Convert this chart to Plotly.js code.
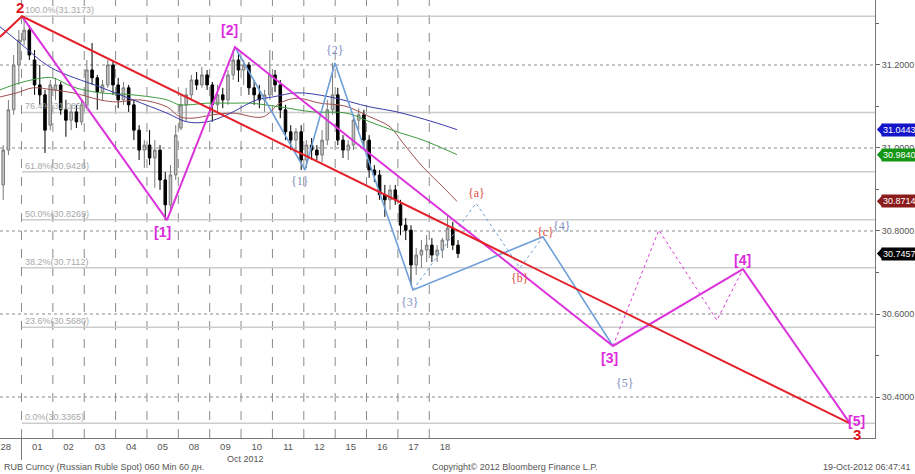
<!DOCTYPE html>
<html><head><meta charset="utf-8">
<script src="https://cdn.plot.ly/plotly-3.0.1.min.js"></script>
<style>html,body{margin:0;padding:0;background:#fff}</style>
</head><body><div id="chart" style="width:915px;height:474px"></div>
<script>
// ---- axis / categories ----
const dayLabels = ['28','01','02','03','04','05','08','09','10','11','12','15','16','17','18'];
const barsPerDay = 6;
const firstBarSlot = 2; // first visible bar slot within day "28"

// ---- hourly candles (RUB spot) ----
const openV = [
 30.911,30.995,31.092,31.200,
 31.260,31.284,31.212,31.152,31.128,31.055,
 31.140,31.152,31.092,31.067,31.087,31.063,
 31.104,31.188,31.169,31.135,31.152,31.200,
 31.152,31.116,31.145,31.104,31.043,30.995,
 31.007,30.976,30.995,30.923,30.863,30.935,
 31.048,31.104,31.128,31.164,31.152,31.176,
 31.152,31.104,31.128,31.116,31.176,31.212,
 31.188,31.200,31.145,31.128,31.116,31.128,
 31.176,31.152,31.092,31.039,31.019,31.039,
 30.971,31.007,30.995,30.983,31.019,31.092,
 31.128,31.019,30.995,31.007,31.067,31.080,
 31.019,30.947,30.935,30.887,30.875,30.899,
 30.863,30.814,30.802,30.718,30.742,30.754,
 30.766,30.742,30.754,30.778,30.807,30.766
];
const highV = [
 31.007,31.116,31.224,31.284,
 31.317,31.296,31.236,31.200,31.140,31.164,
 31.169,31.159,31.116,31.104,31.104,31.116,
 31.212,31.253,31.176,31.164,31.212,31.207,
 31.169,31.159,31.152,31.116,31.055,31.019,
 31.043,31.019,31.007,30.942,30.959,31.055,
 31.128,31.145,31.176,31.183,31.195,31.188,
 31.159,31.152,31.145,31.188,31.236,31.231,
 31.212,31.207,31.164,31.152,31.140,31.236,
 31.188,31.164,31.104,31.055,31.048,31.055,
 31.019,31.024,31.007,31.043,31.116,31.205,
 31.145,31.031,31.019,31.080,31.096,31.092,
 31.031,30.959,30.947,30.911,30.911,30.911,
 30.875,30.831,30.814,30.759,30.778,30.790,
 30.783,30.766,30.783,30.839,30.822,30.778
];
const lowV = [
 30.875,30.983,31.080,31.152,
 31.248,31.212,31.128,31.104,30.988,31.043,
 31.116,31.080,31.027,31.043,31.048,31.055,
 31.096,31.152,31.092,31.116,31.145,31.128,
 31.096,31.104,31.087,31.019,30.971,30.952,
 30.959,30.904,30.899,30.826,30.851,30.923,
 31.043,31.063,31.116,31.140,31.145,31.140,
 31.063,31.087,31.096,31.104,31.164,31.159,
 31.152,31.128,31.104,31.096,31.087,31.116,
 31.135,31.072,31.019,30.995,30.990,30.947,
 30.952,30.971,30.971,30.966,31.007,31.080,
 31.007,30.976,30.971,30.995,31.043,30.995,
 30.928,30.918,30.875,30.834,30.851,30.863,
 30.790,30.778,30.670,30.694,30.711,30.725,
 30.725,30.725,30.735,30.759,30.754,30.735
];
const closeV = [
 30.995,31.092,31.200,31.260,
 31.284,31.224,31.152,31.128,31.043,31.152,
 31.152,31.092,31.067,31.087,31.063,31.104,
 31.188,31.169,31.135,31.152,31.200,31.152,
 31.116,31.145,31.104,31.043,30.995,31.007,
 30.976,30.995,30.923,30.863,30.935,31.031,
 31.104,31.128,31.164,31.152,31.176,31.152,
 31.104,31.128,31.116,31.176,31.212,31.188,
 31.200,31.145,31.128,31.116,31.128,31.176,
 31.152,31.092,31.039,31.019,31.039,30.971,
 31.007,30.995,30.983,31.019,31.092,31.128,
 31.019,30.995,31.007,31.067,31.080,31.019,
 30.947,30.935,30.887,30.875,30.899,30.875,
 30.814,30.802,30.718,30.742,30.754,30.766,
 30.742,30.754,30.778,30.807,30.766,30.7457
];

// ---- moving averages (x in trading days) ----
const maBlueX = [0.315,0.952,1.908,3.502,4.554,5.638,6.275,6.913,7.551,8.507,9.017,9.782,10.834,12.109,12.970,14.118,14.883];
const maBlueY = [31.292,31.253,31.195,31.147,31.116,31.084,31.063,31.063,31.080,31.116,31.123,31.133,31.123,31.099,31.087,31.063,31.0443];
const maGreenX = [0.315,0.952,1.685,2.004,2.641,3.502,4.554,5.638,6.052,6.913,7.742,8.284,9.240,10.292,11.376,12.109,12.970,13.799,14.883];
const maGreenY = [31.140,31.157,31.169,31.169,31.147,31.133,31.128,31.116,31.104,31.108,31.108,31.108,31.099,31.087,31.084,31.063,31.039,31.019,30.984];
const maBrownX = [0.315,0.857,1.367,2.004,2.641,3.502,4.044,4.777,5.638,6.052,6.466,7.104,7.742,8.698,9.240,9.782,10.516,11.313,12.109,12.747,13.161,13.799,14.437,14.883];
const maBrownY = [31.123,31.133,31.145,31.140,31.133,31.116,31.111,31.116,31.099,31.075,31.072,31.080,31.084,31.075,31.108,31.120,31.108,31.101,31.075,31.051,31.012,30.954,30.906,30.8714];

// ---- Elliott wave paths ----
const cycleX = [0.315,1.016,27.41];
const cycleY = [31.2675,31.3173,30.3365];
const primaryX = [1.016,5.638,7.806,19.856,24.0,27.41];
const primaryY = [31.3173,30.826,31.243,30.523,30.708,30.3365];
const primaryAltX = [19.856,21.32,23.17,24.0];
const primaryAltY = [30.523,30.802,30.585,30.708];
const interX = [7.806,10.037,10.994,13.48,17.625,19.856];
const interY = [31.243,30.947,31.205,30.658,30.786,30.523];
const abcX = [13.48,15.49,16.89,17.625];
const abcY = [30.658,30.867,30.711,30.786];

// ---- wave labels ----
const cycleLbl = ['2','3'], cycleLblX = [0.952,27.63], cycleLblY = [31.338,30.309];
const primLbl = ['[1]','[2]','[3]','[4]','[5]'], primLblX = [5.51,7.646,19.76,24.0,27.63], primLblY = [30.798,31.284,30.494,30.730,30.343];
const interLbl = ['{1}','{2}','{3}','{4}','{5}'], interLblX = [9.88,10.994,13.38,18.23,20.24], interLblY = [30.920,31.236,30.629,30.812,30.434];
const abcLbl = ['{a}','{b}','{c}'], abcLblX = [15.49,16.89,17.69], abcLblY = [30.892,30.687,30.798];

// ---- Fibonacci retracement ----
const fibPct = ['100.0%','76.4%','61.8%','50.0%','38.2%','23.6%','0.0%'];
const fibVal = [31.3173,31.0858,30.9426,30.8269,30.7112,30.5680,30.3365];
const fibStartX = 1.016;

// ---- right-side last values ----
const tagVal = [31.0443,30.9840,30.8714,30.7457];
const tagColor = ['#1414c8','#149614','#8c1c1c','#000000'];

const yTicks = [30.4,30.6,30.8,31.0,31.2];
const yRange = [30.3012,31.3566];
const xRange = [0.315,28.21];

// build
const barX = openV.map((_,i)=>{const s=i+firstBarSlot;return Math.floor(s/barsPerDay)+((s%barsPerDay)+0.5)/barsPerDay;});
const dayCenters = dayLabels.map((_,i)=>i+0.5);
const dayBounds = dayLabels.slice(1).map((_,i)=>i+1);

const traces = [
 {type:'candlestick',x:barX,open:openV,high:highV,low:lowV,close:closeV,
  increasing:{line:{color:'#7a7a7a',width:1},fillcolor:'#c4c4c4'},
  decreasing:{line:{color:'#000',width:1},fillcolor:'#000'},
  whiskerwidth:0,hoverinfo:'skip',showlegend:false},
 {type:'scatter',mode:'lines',x:maBrownX,y:maBrownY,line:{color:'#a05050',width:1,shape:'spline'},hoverinfo:'skip'},
 {type:'scatter',mode:'lines',x:maGreenX,y:maGreenY,line:{color:'#3c9c3c',width:1,shape:'spline'},hoverinfo:'skip'},
 {type:'scatter',mode:'lines',x:maBlueX,y:maBlueY,line:{color:'#3a3aa8',width:1,shape:'spline'},hoverinfo:'skip'},
 {type:'scatter',mode:'lines',x:abcX,y:abcY,line:{color:'#6f9fd8',width:1,dash:'dot'},hoverinfo:'skip'},
 {type:'scatter',mode:'lines',x:interX,y:interY,line:{color:'#6f9fd8',width:1.6},hoverinfo:'skip'},
 {type:'scatter',mode:'lines',x:primaryAltX,y:primaryAltY,line:{color:'#d83ad8',width:1,dash:'dot'},hoverinfo:'skip'},
 {type:'scatter',mode:'lines',x:primaryX,y:primaryY,line:{color:'#dc34dc',width:2},hoverinfo:'skip'},
 {type:'scatter',mode:'lines',x:cycleX,y:cycleY,line:{color:'#e4202a',width:2},hoverinfo:'skip'}
];

const shapes = [];
fibVal.forEach(v=>shapes.push({type:'line',xref:'x',yref:'y',x0:fibStartX,x1:xRange[1],y0:v,y1:v,line:{color:'#cccccc',width:1.5},layer:'below'}));
yTicks.forEach(v=>shapes.push({type:'line',xref:'paper',yref:'y',x0:0,x1:1,y0:v,y1:v,line:{color:'#8a8a8a',width:1,dash:'dot'},layer:'below'}));
dayBounds.forEach(d=>shapes.push({type:'line',xref:'x',yref:'paper',x0:d,x1:d,y0:0,y1:1,line:{color:'#8a8a8a',width:1,dash:'dash'},layer:'below'}));
shapes.push({type:'line',xref:'x',yref:'paper',x0:1,x1:1,y0:0,y1:-0.05,line:{color:'#777',width:1}});
const toPaperY = v=>(v-yRange[0])/(yRange[1]-yRange[0]);
const hh = 6/438;
tagVal.forEach((v,i)=>{const p=toPaperY(v);shapes.push({type:'path',xref:'paper',yref:'paper',
  path:`M 1.0022 ${p} L 1.0085 ${p+hh} L 1.0085 ${p-hh} Z`,fillcolor:tagColor[i],line:{width:0}});});

const ann = [];
const addLbls=(t,xs,ys,font)=>t.forEach((s,i)=>ann.push({x:xs[i],y:ys[i],xref:'x',yref:'y',text:s,showarrow:false,font:font}));
addLbls(cycleLbl,cycleLblX,cycleLblY,{family:'Liberation Sans, Arial',size:15,color:'#e0161e',weight:'bold'});
addLbls(primLbl,primLblX,primLblY,{family:'Liberation Sans, Arial',size:14,color:'#dc2cdc',weight:'bold'});
addLbls(interLbl,interLblX,interLblY,{family:'Liberation Serif, serif',size:12,color:'#7d8cc0'});
addLbls(abcLbl,abcLblX,abcLblY,{family:'Liberation Serif, serif',size:12,color:'#e04a3a'});
fibPct.forEach((p,i)=>ann.push({x:fibStartX+0.02,y:fibVal[i],xref:'x',yref:'y',xanchor:'left',yanchor:'bottom',yshift:-1,
  text:p+'('+fibVal[i].toFixed(4)+')',showarrow:false,font:{family:'Liberation Sans, Arial',size:9,color:'#a8a8a8'}}));
tagVal.forEach((v,i)=>ann.push({x:1,y:v,xref:'paper',yref:'y',xanchor:'left',xshift:6,text:v.toFixed(4),showarrow:false,
  bgcolor:tagColor[i],borderpad:1,font:{family:'Liberation Sans, Arial',size:9,color:'#ffffff'}}));
const small = {family:'Liberation Sans, Arial',size:9,color:'#555'};
ann.push({x:8.13,y:-0.047,xref:'x',yref:'paper',yanchor:'middle',text:'Oct 2012',showarrow:false,font:small});
ann.push({x:0.002,y:-0.066,xref:'paper',yref:'paper',xanchor:'left',yanchor:'middle',text:'RUB Curncy (Russian Ruble Spot) 060 Min 60 дн.',showarrow:false,font:small});
ann.push({x:0.491,y:-0.066,xref:'paper',yref:'paper',xanchor:'left',yanchor:'middle',text:'Copyright© 2012 Bloomberg Finance L.P.',showarrow:false,font:small});
ann.push({x:1.0435,y:-0.066,xref:'paper',yref:'paper',xanchor:'right',yanchor:'middle',text:'19-Oct-2012 06:47:41',showarrow:false,font:small});

const layout = {
 width:915,height:474,margin:{l:0,r:40,t:0,b:36},
 paper_bgcolor:'#fff',plot_bgcolor:'#fff',showlegend:false,
 xaxis:{range:xRange,tickvals:dayCenters,ticktext:dayLabels,showgrid:false,zeroline:false,
   showline:true,linecolor:'#777',linewidth:1,ticks:'',rangeslider:{visible:false},
   tickfont:{family:'Liberation Sans, Arial',size:9.5,color:'#555'},fixedrange:true},
 yaxis:{range:yRange,side:'right',tickvals:yTicks,tickformat:'.4f',showgrid:false,zeroline:false,
   showline:true,linecolor:'#777',linewidth:1,ticks:'outside',ticklen:4,tickcolor:'#666',
   minor:{ticks:'outside',ticklen:3,tickcolor:'#666',dtick:0.1,tick0:30.3,showgrid:false},
   tickfont:{family:'Liberation Sans, Arial',size:9,color:'#555'},fixedrange:true},
 shapes:shapes,annotations:ann,hovermode:false
};
Plotly.newPlot('chart',traces,layout,{staticPlot:true,displayModeBar:false});
</script></body></html>
